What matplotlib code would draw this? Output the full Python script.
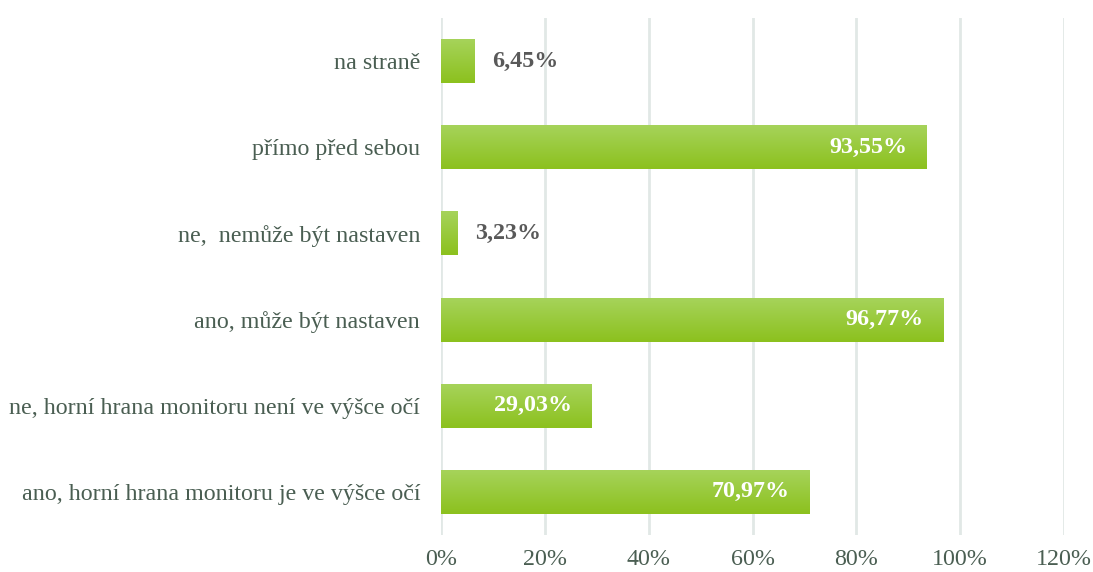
import numpy as np
import matplotlib.pyplot as plt
from matplotlib.colors import LinearSegmentedColormap

categories = [
    "ano, horní hrana monitoru je ve výšce očí",
    "ne, horní hrana monitoru není ve výšce očí",
    "ano, může být nastaven",
    "ne,  nemůže být nastaven",
    "přímo před sebou",
    "na straně",
]
values = [70.97, 29.03, 96.77, 3.23, 93.55, 6.45]
xticks = [0, 20, 40, 60, 80, 100, 120]

plt.rcParams['font.family'] = ['Liberation Serif', 'DejaVu Serif']
text_col = "#4a5e52"
fs = 17.3

fig = plt.figure(figsize=(10.93, 5.72), dpi=100)
ax = fig.add_axes([0.4035, 0.0647, 0.57, 0.904])

cmap = LinearSegmentedColormap.from_list("g", ["#a6d35a", "#8cc11e"])
grad = np.linspace(0, 1, 64).reshape(-1, 1)
h = 0.51
for i, v in enumerate(values):
    ax.imshow(grad, cmap=cmap, aspect="auto", origin="upper",
              extent=[0, v, i - h / 2, i + h / 2], zorder=2, interpolation="bicubic")
    lbl = ("%.2f" % v).replace(".", ",") + "%"
    if v > 20:
        ax.text(v - 3.8, i, lbl, ha="right", va="center", color="white",
                fontsize=fs, fontweight="bold", zorder=3)
    else:
        ax.text(v + 3.3, i, lbl, ha="left", va="center", color="#595959",
                fontsize=fs, fontweight="bold", zorder=3)

ax.set_xlim(0, 120)
ax.set_ylim(-0.5, len(categories) - 0.5)
ax.set_xticks(xticks)
ax.set_xticklabels(["%d%%" % t for t in xticks], fontsize=fs, color=text_col)
ax.set_yticks(range(len(categories)))
ax.set_yticklabels(categories, fontsize=fs, color=text_col)
ax.tick_params(length=0, pad=15, axis="y")
ax.tick_params(length=0, pad=10, axis="x")
ax.grid(axis="x", color="#e1e8e6", linewidth=2, zorder=0)
ax.set_axisbelow(True)
for s in ax.spines.values():
    s.set_visible(False)

fig.savefig("out.png", dpi=100, facecolor="white")
